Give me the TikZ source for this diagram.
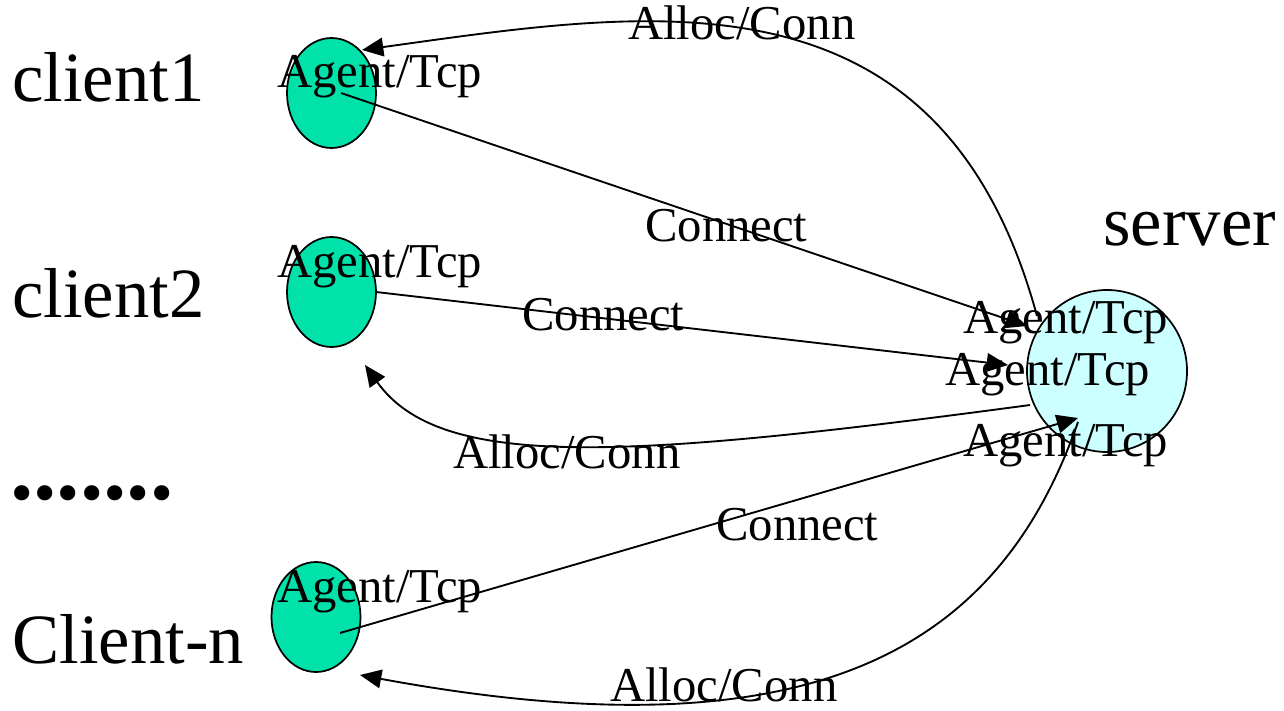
\documentclass[tikz,border=0pt]{standalone}
\usepackage{fontspec}
\setmainfont{Liberation Serif}
\usetikzlibrary{arrows.meta,shapes.geometric}
\definecolor{agentgreen}{RGB}{0,226,170}
\definecolor{servercyan}{RGB}{204,255,255}
\begin{document}
\begin{tikzpicture}[x=0.75pt,y=-0.75pt,
  clientnode/.style={ellipse,draw=black,line width=1.3pt,fill=agentgreen,minimum width=66.75pt,minimum height=82.5pt,inner sep=0pt},
  servernode/.style={ellipse,draw=black,line width=1.3pt,fill=servercyan,minimum width=120pt,minimum height=121.5pt,inner sep=0pt},
  small/.style={inner sep=0pt,anchor=base west,font=\fontsize{36.5}{40}\selectfont},
  big/.style={inner sep=0pt,anchor=base west,font=\fontsize{53}{58}\selectfont},
  conn/.style={line width=1.4pt,-{Triangle[length=16pt,width=14pt]}}
]
\useasboundingbox (0,0) rectangle (1284,710);
% nodes
\node[clientnode] (c1) at (331.5,93) {};
\node[clientnode] (c2) at (331.5,292) {};
\node[clientnode] (cn) at (316,617) {};
\node[servernode] (srv) at (1107,371) {};
% connector end points
\coordinate (c1s) at (341,93);
\coordinate (c1t) at (362,50);
\coordinate (c2s) at (376,292);
\coordinate (c2t) at (365,365);
\coordinate (cns) at (340,633);
\coordinate (cnt) at (360,675);
\coordinate (s1t) at (1027,326);
\coordinate (s1s) at (1037,316);
\coordinate (s2t) at (1008,365);
\coordinate (s2s) at (1030,405);
\coordinate (s3t) at (1078,418);
\coordinate (s3s) at (1078,422);
% connectors
\draw[conn] (c1s) -- (s1t);
\draw[conn] (s1s) .. controls (940,-40) and (650,10) .. (c1t);
\draw[conn] (c2s) -- (s2t);
\draw[conn] (s2s) .. controls (620,460) and (440,470) .. (c2t);
\draw[conn] (cns) -- (s3t);
\draw[conn] (s3s) .. controls (1000,645) and (820,760) .. (cnt);
% texts
\node[big] (l1) at (12,101) {client1};
\node[big] (l2) at (12,317) {client2};
\node[inner sep=0pt,anchor=base west,font=\fontsize{70}{76}\bfseries] (ld) at (10,499) {.......};
\node[big] (ln) at (12,663) {Client-n};
\node[big] (ls) at (1103,245) {server};
\node[small] (a1) at (277,88) {Agent/Tcp};
\node[small] (a2) at (277,277) {Agent/Tcp};
\node[small] (a3) at (277,602) {Agent/Tcp};
\node[small] (a4) at (963,333) {Agent/Tcp};
\node[small] (a5) at (945,385) {Agent/Tcp};
\node[small] (a6) at (963,456) {Agent/Tcp};
\node[small] (k1) at (628,40) {Alloc/Conn};
\node[small] (k2) at (453,468) {Alloc/Conn};
\node[small] (k3) at (610,701) {Alloc/Conn};
\node[small] (n1) at (645,241) {Connect};
\node[small] (n2) at (522,330) {Connect};
\node[small] (n3) at (716,540) {Connect};
\end{tikzpicture}
\end{document}
